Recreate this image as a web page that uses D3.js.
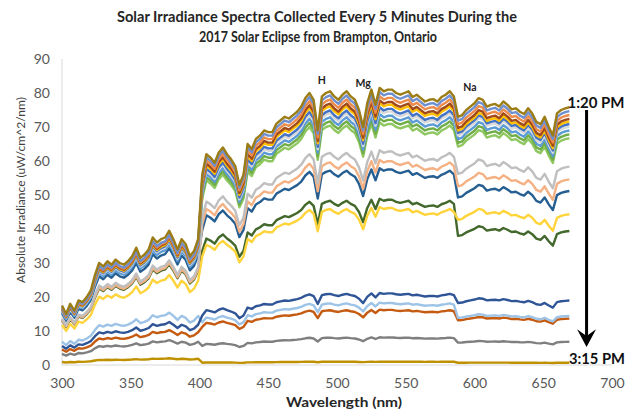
<!DOCTYPE html>
<html>
<head>
<meta charset="utf-8">
<script src="https://cdn.jsdelivr.net/npm/d3@7"></script>
<style>
  body { margin: 0; background: #fff; }
  text { font-family: Lato, "Open Sans", sans-serif; }
</style>
</head>
<body>
<svg class="chart" width="634" height="411"></svg>
<script>
// Wavelength grid (nm) and the clear-sky spectrum shape
const wavelengths = d3.range(300, 670, 3);
const profile = [
  17.5, 15, 18, 16, 19, 18.5, 20, 22, 26.5, 30,
  29, 30.5, 29.5, 31, 30, 29.5, 30.5, 32, 34.5, 31.5,
  32.5, 34, 37.5, 36, 37, 37.5, 39.5, 37, 34, 37,
  35.5, 32, 33.5, 37, 56, 62, 61, 59.5, 62.5, 64,
  62, 60.5, 58.5, 53, 56, 65, 63.5, 66.5, 67.5, 69,
  68.5, 68.5, 71, 72, 73, 72.5, 73.5, 74.5, 76, 78.5,
  80, 78, 69, 79, 80, 80.5, 79, 78, 79.5, 80.5,
  79, 78, 75, 70, 77, 81, 76.5, 81.5, 80.5, 81,
  81, 80, 79.5, 80, 80.5, 78.8, 79.5, 78.5, 77.5, 78,
  78.2, 77.5, 78.8, 79.5, 80.5, 79, 73, 73.5, 75, 76,
  77, 78.5, 78, 76, 76.5, 76.8, 76, 77.5, 76.5, 75.2,
  75.5, 74.5, 73.8, 75.5, 74, 71.5, 70.8, 73, 70, 67.5,
  74, 75, 75.5, 75.8
];

// One entry per spectrum, 1:20 PM first; level of each relative to the top trace
// in the UV (<400 nm), the blue-green (400-588 nm) and the red (>588 nm)
const seriesColors = [
  "#9C7C14", "#6F8FCF", "#ED8C4A", "#A0491A", "#FFC000",
  "#4472C4", "#D9D9D9", "#5B9BD5", "#70AD47", "#8FC760",
  "#BFBFBF", "#F4B183", "#255E91", "#FFD43B", "#43682B",
  "#2F5597", "#9DC3E6", "#C55A11", "#7F7F7F", "#BF9000"
];
const uvFactor = [
  1.0, 0.97, 0.96, 0.95, 0.94, 0.93, 0.92, 0.9, 0.95, 0.96,
  0.78, 0.76, 0.87, 0.67, 0.75,
  0.32, 0.39, 0.26, 0.185, 0.05
];
const visFactor = [
  1.0, 0.985, 0.97, 0.955, 0.945, 0.93, 0.92, 0.905, 0.89, 0.875,
  0.775, 0.74, 0.71, 0.57, 0.6,
  0.26, 0.225, 0.2, 0.1, 0.012
];
const redFactor = [
  1.0, 0.985, 0.97, 0.955, 0.945, 0.935, 0.925, 0.91, 0.895, 0.88,
  0.77, 0.72, 0.675, 0.585, 0.52,
  0.25, 0.19, 0.18, 0.09, 0.009
];

const xTicks = [300, 350, 400, 450, 500, 550, 600, 650, 700];
const yTicks = [0, 10, 20, 30, 40, 50, 60, 70, 80, 90];
const lineLabels = [
  { text: "H", wl: 489, level: 83.8 },
  { text: "Mg", wl: 519, level: 82.9 },
  { text: "Na", wl: 596.7, level: 81.8 }
];

const svg = d3.select(".chart");
const margin = { top: 59, right: 22, bottom: 46, left: 62 };
const width = +svg.attr("width");
const height = +svg.attr("height");

const x = d3.scaleLinear().domain([300, 700]).range([margin.left, width - margin.right]);
const y = d3.scaleLinear().domain([0, 90]).range([height - margin.bottom, margin.top]);

svg.append("rect").attr("width", width).attr("height", height).attr("fill", "#fff");

// Title
const title = svg.append("g").attr("font-weight", "bold").attr("fill", "#262626")
  .attr("text-anchor", "middle").style("font-size", "15.5px");
title.append("text").attr("x", 317).attr("y", 22)
  .attr("textLength", 400).attr("lengthAdjust", "spacingAndGlyphs")
  .text("Solar Irradiance Spectra Collected Every 5 Minutes During the");
title.append("text").attr("x", 318).attr("y", 42)
  .attr("textLength", 238).attr("lengthAdjust", "spacingAndGlyphs")
  .text("2017 Solar Eclipse from Brampton, Ontario");

// Axis lines
svg.append("line")
  .attr("x1", x(300)).attr("x2", x(300)).attr("y1", y(90)).attr("y2", y(0))
  .attr("stroke", "#d9d9d9");
svg.append("line")
  .attr("x1", x(300)).attr("x2", x(700)).attr("y1", y(0)).attr("y2", y(0))
  .attr("stroke", "#d9d9d9");

// Tick labels
const yAxis = svg.append("g")
  .attr("transform", `translate(${margin.left},0)`)
  .call(d3.axisLeft(y).tickValues(yTicks).tickSize(0).tickPadding(12));
const xAxis = svg.append("g")
  .attr("transform", `translate(0,${y(0)})`)
  .call(d3.axisBottom(x).tickValues(xTicks).tickSize(0).tickPadding(13));
[yAxis, xAxis].forEach(g => {
  g.select(".domain").remove();
  g.selectAll("text").attr("fill", "#595959")
    .style("font-family", "Lato, sans-serif").style("font-size", "14px");
});

// Axis titles
svg.append("text")
  .attr("transform", `translate(25,${(y(90) + y(0)) / 2 - 22}) rotate(-90)`)
  .attr("text-anchor", "middle").attr("fill", "#404040")
  .attr("textLength", 186).attr("lengthAdjust", "spacingAndGlyphs")
  .style("font-size", "11.5px")
  .text("Absolute Irradiance (uW/cm^2/nm)");
svg.append("text")
  .attr("x", 344).attr("y", 407)
  .attr("text-anchor", "middle").attr("font-weight", "bold").attr("fill", "#262626")
  .attr("textLength", 116).attr("lengthAdjust", "spacingAndGlyphs")
  .style("font-size", "14px")
  .text("Wavelength (nm)");

// Spectra
const seriesValues = seriesColors.map((c, k) => profile.map((v, i) => {
  const wl = wavelengths[i];
  const f = wl < 400 ? uvFactor[k] : (wl < 588 ? visFactor[k] : redFactor[k]);
  return v * f;
}));

const line = d3.line()
  .x((d, i) => x(wavelengths[i]))
  .y(d => y(d));

const order = d3.range(seriesColors.length).reverse();
svg.append("g").selectAll("path")
  .data(order)
  .enter()
  .append("path")
  .attr("d", k => line(seriesValues[k]))
  .attr("fill", "none")
  .attr("stroke", k => seriesColors[k])
  .attr("stroke-width", 2.4)
  .attr("stroke-linejoin", "round");

// Absorption line labels
svg.append("g").selectAll("text")
  .data(lineLabels)
  .enter()
  .append("text")
  .attr("x", d => x(d.wl))
  .attr("y", d => y(d.level) + 4)
  .attr("text-anchor", "middle")
  .attr("font-weight", "bold")
  .attr("fill", "#222")
  .style("font-size", "10.5px")
  .text(d => d.text);

// Time arrow
const ax = x(681.5);
svg.append("text").attr("x", 596).attr("y", 108)
  .attr("text-anchor", "middle").attr("font-weight", "bold").attr("fill", "#111")
  .attr("textLength", 57).attr("lengthAdjust", "spacingAndGlyphs")
  .style("font-size", "15px").text("1:20 PM");
svg.append("line")
  .attr("x1", ax).attr("x2", ax).attr("y1", y(75)).attr("y2", y(8.5))
  .attr("stroke", "#000").attr("stroke-width", 3);
svg.append("path")
  .attr("d", `M${ax - 9.5},${y(10.5)} L${ax},${y(5.3)} L${ax + 9.5},${y(10.5)} L${ax},${y(8.5)} Z`)
  .attr("fill", "#000");
svg.append("text").attr("x", 597).attr("y", 364)
  .attr("text-anchor", "middle").attr("font-weight", "bold").attr("fill", "#111")
  .attr("textLength", 56).attr("lengthAdjust", "spacingAndGlyphs")
  .style("font-size", "15px").text("3:15 PM");
</script>
</body>
</html>
